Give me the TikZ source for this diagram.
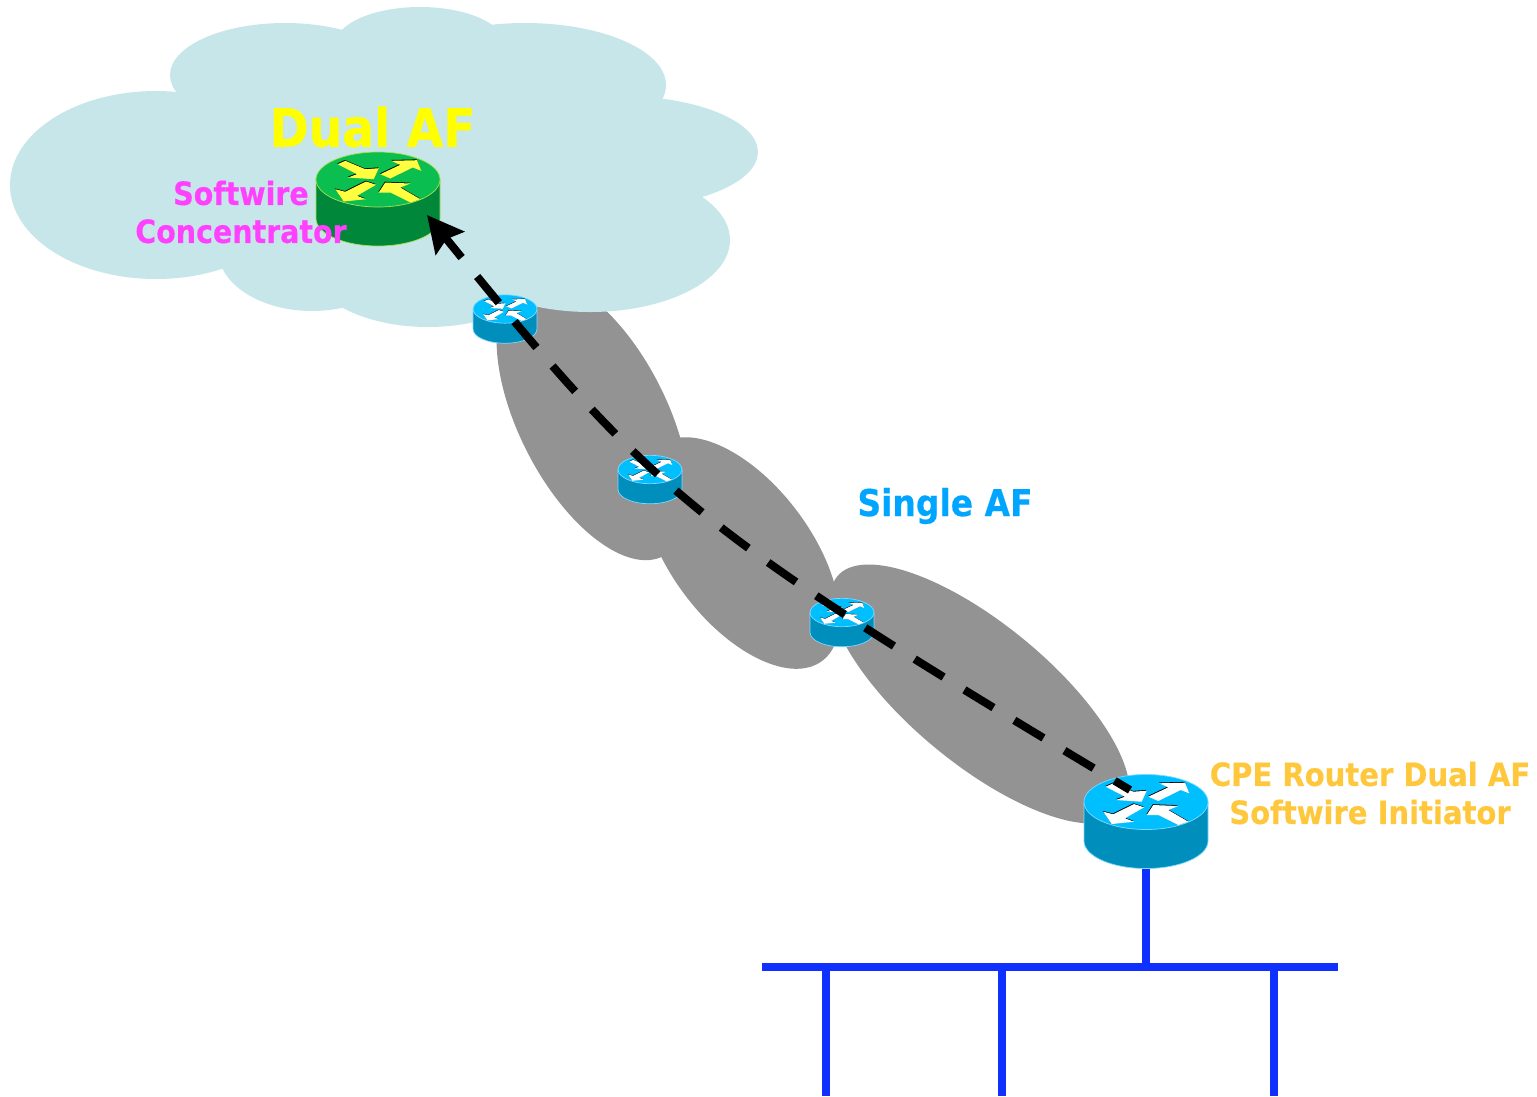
\documentclass[tikz,border=0pt]{standalone}
\usepackage{fontspec}
\setmainfont{DejaVu Sans}[BoldFont={DejaVu Sans Bold},BoldFeatures={FakeBold=0.4}]
\usetikzlibrary{arrows.meta}
\definecolor{cloudc}{HTML}{C7E6E9}
\definecolor{greyc}{HTML}{939393}
\definecolor{busc}{HTML}{1030FF}
\definecolor{cyantop}{HTML}{00BFFF}
\definecolor{cyanside}{HTML}{008FBC}
\definecolor{cyanedge}{HTML}{80D8FF}
\definecolor{greentop}{HTML}{0ABF50}
\definecolor{greenside}{HTML}{00873A}
\definecolor{greenedge}{HTML}{A8E050}
\definecolor{dualc}{HTML}{FFFF00}
\definecolor{magc}{HTML}{FF40FF}
\definecolor{singlec}{HTML}{00A5FF}
\definecolor{cpec}{HTML}{FFC83C}
\definecolor{arrowy}{HTML}{FFFF40}
\tikzset{
  busline/.style={draw=busc,line width=7.5pt},
  tunnel/.style={draw=black,line width=8pt,dash pattern=on 34pt off 24.5pt,dash phase=16pt,-{Stealth[length=36pt,width=36pt,inset=5pt]}},
  lbl/.style={align=center,inner sep=0pt,xscale=.89,transform shape},
  pics/router/.style n args={4}{code={
    \path[fill=#2,draw=#3,line width=.7pt] (-62,0) -- (-62,39) arc[start angle=180,end angle=0,x radius=62,y radius=27.5] -- (62,0) -- cycle;
    \path[fill=#1,draw=#3,line width=.7pt] (0,0) ellipse[x radius=62,y radius=27.5];
    \foreach \dx/\dy/\c in {-.4/-.8/black,0/0/#4}{
      \begin{scope}[shift={(\dx,\dy)}]
      \fill[\c] (2.3,-5.3) -- (22.3,-14.7) -- (13.3,-18.7) -- (39,-19.3) -- (43.3,-8.7) -- (34.7,-12) -- (12.3,-1) -- cycle;
      \fill[\c] (-40.3,-15.3) -- (-32.7,-18.7) -- (-12.7,-10.3) -- (.7,-11.3) -- (-4.3,-.3) -- (-30,-2) -- (-21,-5.3) -- cycle;
      \fill[\c] (-2,5.3) -- (-21,16.3) -- (-12,19.7) -- (-34.3,22) -- (-42.7,9.7) -- (-32.7,12.3) -- (-12,2) -- cycle;
      \fill[\c] (42.3,19.7) -- (32.3,23) -- (12.3,13) -- (.7,13) -- (7.3,3) -- (32.3,4) -- (22.3,8) -- cycle;
      \end{scope}
    }
  }}
}
\begin{document}
\begin{tikzpicture}[x=1pt,y=-1pt]
\useasboundingbox (0,0) rectangle (1537,1096);
% grey tunnels
\fill[greyc,rotate around={-63:(593,418)}] (593,418) ellipse[x radius=155,y radius=74];
\fill[greyc,rotate around={-53:(741,553)}] (741,553) ellipse[x radius=135,y radius=70];
\fill[greyc,rotate around={-39.5:(980,694)}] (980,694) ellipse[x radius=185,y radius=70];
% cloud
\fill[cloudc] (156,185) ellipse[x radius=146,y radius=94];
\fill[cloudc] (285,75) ellipse[x radius=115,y radius=52];
\fill[cloudc] (420,45) ellipse[x radius=85,y radius=38];
\fill[cloudc] (525,85) ellipse[x radius=141,y radius=62];
\fill[cloudc] (620,152) ellipse[x radius=138,y radius=56];
\fill[cloudc] (590,240) ellipse[x radius=140,y radius=72];
\fill[cloudc] (428,260) ellipse[x radius=122,y radius=67];
\fill[cloudc] (312,250) ellipse[x radius=94,y radius=61];
\fill[cloudc] (240,70) rectangle (560,280);
% router positions
\coordinate (conc) at (378,179.5);
\coordinate (hopa) at (505,309);
\coordinate (hopb) at (650,469.5);
\coordinate (hopc) at (842,612.5);
\coordinate (cpe) at (1146,802);
\coordinate (conctip) at (427,215);
\coordinate (cpeend) at (1130,790);
\coordinate (benda) at (658,499);
\coordinate (bendb) at (693,528);
\coordinate (bustap) at (1146,967);
\coordinate (busl) at (762,967);
\coordinate (busr) at (1338,967);
\coordinate (dropa) at (826,967);
\coordinate (dropb) at (1002,967);
\coordinate (dropc) at (1274,967);
\coordinate (enda) at (826,1096);
\coordinate (endb) at (1002,1096);
\coordinate (endc) at (1274,1096);
\coordinate (cpebase) at (1146,868);
% bus
\draw[busline] (busl) -- (busr);
\draw[busline] (cpebase) -- (bustap);
\draw[busline] (dropa) -- (enda);
\draw[busline] (dropb) -- (endb);
\draw[busline] (dropc) -- (endc);
% routers
\pic at (conc) {router={greentop}{greenside}{greenedge}{arrowy}};
\pic[scale=.515] at (hopa) {router={cyantop}{cyanside}{cyanedge}{white}};
\pic[scale=.515] at (hopb) {router={cyantop}{cyanside}{cyanedge}{white}};
\pic[scale=.515] at (hopc) {router={cyantop}{cyanside}{cyanedge}{white}};
\pic at (cpe) {router={cyantop}{cyanside}{cyanedge}{white}};
% tunnel
\draw[tunnel] (cpeend) .. controls (bendb) and (benda) .. (conctip);
% labels
\node[lbl,text=dualc,font=\fontsize{53}{60}\bfseries\selectfont] (dual) at (372.5,127) {Dual AF};
\node[lbl,text=magc,font=\fontsize{32}{38}\bfseries\selectfont] (soft) at (241,212) {Softwire\\Concentrator};
\node[lbl,text=singlec,font=\fontsize{37}{38}\bfseries\selectfont] (single) at (945,506) {Single AF};
\node[lbl,text=cpec,font=\fontsize{32}{38}\bfseries\selectfont,xscale=1.02] (cpelabel) at (1370,793) {CPE Router Dual AF\\Softwire Initiator};
\end{tikzpicture}
\end{document}
